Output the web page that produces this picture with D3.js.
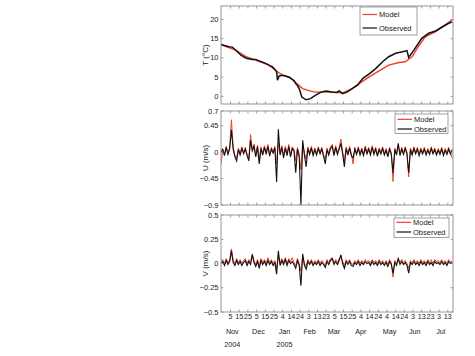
<!DOCTYPE html>
<html><head><meta charset="utf-8">
<script src="https://cdn.jsdelivr.net/npm/d3@7"></script>
<style>body{margin:0;background:#fff}svg{display:block}text{font-family:"Liberation Sans",Arial,sans-serif;fill:#222}</style>
</head><body><svg id="c" width="475" height="356"></svg>
<script>
// ---------- DATA ----------
const tDatesObs = ["2004-10-25","2004-10-29","2004-11-03","2004-11-07","2004-11-11","2004-11-17","2004-11-23","2004-11-30","2004-12-04","2004-12-08","2004-12-12","2004-12-16","2004-12-20","2004-12-23","2004-12-26","2004-12-28","2004-12-29","2004-12-31","2005-01-04","2005-01-08","2005-01-12","2005-01-15","2005-01-17","2005-01-19","2005-01-21","2005-01-23","2005-01-26","2005-01-31","2005-02-05","2005-02-11","2005-02-17","2005-02-23","2005-03-02","2005-03-07","2005-03-10","2005-03-14","2005-03-19","2005-03-25","2005-03-31","2005-04-06","2005-04-14","2005-04-21","2005-04-29","2005-05-06","2005-05-14","2005-05-22","2005-05-27","2005-05-29","2005-06-04","2005-06-13","2005-06-21","2005-06-29","2005-07-07","2005-07-14","2005-07-18"];
const tObs = [13.5,13.2,12.9,12.8,12.0,10.7,9.9,9.6,9.6,9.2,8.9,8.5,8.0,7.7,7.0,6.4,4.2,5.3,5.5,5.2,4.9,4.4,4.1,3.3,2.8,2.0,-0.2,-0.9,-0.6,0.3,1.1,1.4,1.1,1.0,1.4,0.7,1.1,2.0,2.9,4.6,5.9,7.2,9.0,10.3,11.2,11.6,11.9,10.1,12.0,15.1,16.4,17.0,18.1,19.0,19.3];
const tDatesModel = ["2004-10-25","2004-11-11","2004-11-23","2004-12-04","2004-12-19","2004-12-29","2005-01-04","2005-01-12","2005-01-19","2005-01-27","2005-02-04","2005-02-11","2005-02-26","2005-03-14","2005-03-25","2005-04-02","2005-04-14","2005-04-25","2005-05-06","2005-05-18","2005-05-25","2005-06-02","2005-06-09","2005-06-17","2005-06-29","2005-07-10","2005-07-18"];
const tModel = [13.4,12.0,10.3,9.4,8.1,6.4,5.5,4.9,3.6,2.0,1.4,1.1,1.1,0.9,2.0,3.3,5.1,6.6,8.1,8.8,9.0,10.3,12.9,15.5,16.8,18.6,19.9];

const uvStartDate = "2004-10-25";
const uvStepDays = 2;
const uObs = [0.00,0.05,-0.06,0.08,-0.04,0.06,0.38,0.05,-0.08,-0.15,0.04,-0.05,0.06,-0.03,0.05,-0.06,-0.15,0.20,0.02,0.10,-0.08,0.09,-0.20,0.06,-0.05,0.08,-0.04,0.10,-0.07,0.05,-0.02,0.07,-0.51,0.39,-0.05,0.08,-0.10,0.07,-0.06,0.10,-0.08,0.06,0.02,-0.35,0.05,-0.08,-0.90,0.20,-0.05,-0.25,0.06,-0.04,0.07,-0.06,0.04,-0.05,0.06,-0.03,0.05,-0.07,-0.20,0.04,-0.05,0.06,0.10,-0.06,0.08,-0.04,0.05,0.15,-0.03,-0.25,0.06,-0.05,0.07,-0.06,-0.10,0.05,-0.04,0.06,-0.05,0.04,-0.06,0.07,-0.03,0.05,-0.05,0.08,-0.04,0.05,-0.07,0.04,-0.03,0.06,-0.05,0.03,-0.08,0.05,-0.04,-0.35,0.04,-0.05,0.15,-0.06,0.05,-0.04,0.06,-0.03,-0.35,0.04,-0.05,0.06,-0.03,0.05,-0.06,0.04,-0.03,0.05,-0.05,0.03,-0.04,0.06,-0.03,0.04,-0.05,0.03,-0.04,0.05,-0.06,0.03,-0.04,0.05,-0.03,0.04];
const uModel = [-0.20,0.04,-0.03,0.10,-0.02,0.08,0.55,0.08,-0.05,-0.10,0.07,-0.02,0.09,0.00,0.08,-0.03,-0.10,0.30,0.05,0.13,-0.05,0.12,-0.15,0.09,-0.02,0.11,0.00,0.13,-0.04,0.08,0.01,0.10,-0.20,0.15,-0.02,0.11,-0.06,0.10,-0.03,0.13,-0.05,0.09,0.05,-0.15,0.08,-0.04,-0.30,0.15,-0.02,-0.12,0.09,-0.01,0.10,-0.03,0.07,-0.02,0.09,0.00,0.08,-0.04,-0.12,0.07,-0.02,0.09,0.13,-0.03,0.11,-0.01,0.08,0.22,0.00,-0.15,0.09,-0.02,0.10,-0.03,-0.20,0.08,-0.01,0.09,-0.02,0.07,-0.03,0.10,0.00,0.08,-0.02,0.11,-0.01,0.08,-0.04,0.07,0.00,0.09,-0.02,0.06,-0.05,0.08,-0.01,-0.50,0.07,-0.02,0.12,-0.03,0.08,-0.01,0.09,0.00,-0.42,0.07,-0.02,0.09,0.00,0.08,-0.03,0.07,0.00,0.08,-0.02,0.06,-0.01,0.09,0.00,0.07,-0.02,0.06,-0.01,0.08,-0.03,0.06,-0.01,0.08,0.00,-0.10];
const vObs = [0.00,0.02,-0.02,0.03,-0.01,0.02,0.13,0.01,-0.02,0.03,-0.01,0.02,-0.02,0.01,0.03,-0.02,0.02,-0.01,0.09,0.01,-0.03,0.02,-0.05,0.03,-0.01,0.02,-0.02,0.03,-0.01,0.02,-0.02,0.01,-0.11,0.13,-0.02,0.03,-0.01,0.04,-0.02,0.03,0.00,0.02,-0.01,-0.05,0.03,-0.02,-0.23,0.10,-0.02,-0.06,0.02,-0.01,0.02,-0.02,0.01,-0.01,0.02,-0.02,0.01,-0.01,-0.04,0.02,-0.01,0.03,0.05,-0.01,0.02,-0.01,0.03,0.09,0.00,-0.05,0.02,-0.01,0.02,-0.02,-0.03,0.01,-0.01,0.02,-0.02,0.01,-0.01,0.02,0.00,0.01,-0.02,0.02,-0.01,0.01,-0.02,0.02,-0.01,0.01,-0.02,0.01,-0.03,0.02,-0.01,-0.10,0.01,-0.02,0.05,-0.01,0.02,-0.01,0.01,-0.02,-0.10,0.01,-0.01,0.02,-0.01,0.01,-0.02,0.02,-0.01,0.01,-0.02,0.02,-0.01,0.01,-0.02,0.02,0.00,0.01,-0.01,0.02,-0.01,0.01,-0.02,0.02,0.00,0.01];
const vModel = [0.02,0.04,0.00,0.05,0.01,0.04,0.15,0.03,0.00,0.05,0.01,0.04,0.00,0.03,0.05,0.00,0.04,0.01,0.10,0.03,-0.01,0.04,-0.02,0.05,0.01,0.04,0.00,0.06,0.01,0.04,0.00,0.03,-0.05,0.08,0.00,0.05,0.01,0.06,0.00,0.05,0.02,0.06,0.01,-0.02,0.05,0.00,-0.08,0.07,0.00,-0.03,0.04,0.01,0.04,0.00,0.03,0.01,0.04,0.00,0.03,0.01,-0.02,0.04,0.01,0.05,0.06,0.01,0.04,0.01,0.05,0.07,0.02,-0.02,0.04,0.01,0.04,0.00,-0.01,0.03,0.01,0.04,0.00,0.03,0.01,0.04,0.02,0.03,0.00,0.04,0.01,0.03,0.00,0.04,0.01,0.03,0.00,0.03,-0.01,0.04,0.01,-0.14,0.03,0.00,0.05,0.01,0.04,0.01,0.03,0.00,-0.05,0.03,0.01,0.04,0.01,0.03,0.00,0.04,0.01,0.03,0.00,0.04,0.01,0.04,0.00,0.04,0.02,0.03,0.01,0.04,0.01,0.03,0.00,0.04,0.02,0.02];

const xDomainDates = ["2004-10-25","2005-07-19"];
const xTickDates = ["2004-11-05","2004-11-15","2004-11-25","2004-12-05","2004-12-15","2004-12-25","2005-01-04","2005-01-14","2005-01-24","2005-02-03","2005-02-13","2005-02-23","2005-03-05","2005-03-15","2005-03-25","2005-04-04","2005-04-14","2005-04-24","2005-05-04","2005-05-14","2005-05-24","2005-06-03","2005-06-13","2005-06-23","2005-07-03","2005-07-13"];
const monthLabels = ["Nov","Dec","Jan","Feb","Mar","Apr","May","Jun","Jul"];
const monthLabelDates = ["2004-11-07","2004-12-07","2005-01-06","2005-02-04","2005-03-04","2005-04-04","2005-05-07","2005-06-05","2005-07-05"];
const yearLabels = ["2004","2005"];
const yearLabelDates = ["2004-11-07","2005-01-06"];

const tTicks = [0,5,10,15,20];
const uTicks = [-0.9,-0.45,0,0.45,0.7];
const vTicks = [-0.5,-0.25,0,0.25,0.5];
const seriesNames = ["Model","Observed"];
const yLabels = ["T (\u00B0C)","U (m/s)","V (m/s)"];

// ---------- DRAW ----------
const parse = d3.timeParse("%Y-%m-%d");
const svg = d3.select("#c");
const L = 221, R = 453;
const x = d3.scaleTime().domain(xDomainDates.map(parse)).range([L, R]);
const RED = "#f0402a", BLK = "#111", AX = "#8a8a8a";
const fmt = v => String(v).replace("-", "\u2212");

const uvStart = parse(uvStartDate);
const uvDate = i => d3.timeDay.offset(uvStart, i * uvStepDays);

const panels = [
  {top: 6, bottom: 104, domain: [-2, 23.5], ticks: tTicks, label: yLabels[0],
   model: tModel.map((v,i)=>[parse(tDatesModel[i]), v]),
   obs: tObs.map((v,i)=>[parse(tDatesObs[i]), v]), lw: 1.4,
   leg: {x: 360, y: 7, w: 57, h: 28, y1: 14.5, y2: 28}},
  {top: 111, bottom: 205, domain: [-0.9, 0.7], ticks: uTicks, label: yLabels[1],
   model: uModel.map((v,i)=>[uvDate(i), v]),
   obs: uObs.map((v,i)=>[uvDate(i), v]), lw: 1,
   leg: {x: 395, y: 114, w: 53, h: 19.5, y1: 119.3, y2: 129}},
  {top: 215, bottom: 312, domain: [-0.5, 0.5], ticks: vTicks, label: yLabels[2],
   model: vModel.map((v,i)=>[uvDate(i), v]),
   obs: vObs.map((v,i)=>[uvDate(i), v]), lw: 1,
   leg: {x: 394, y: 218, w: 55, h: 19.5, y1: 222.3, y2: 232}}
];

panels.forEach((p, k) => {
  const y = d3.scaleLinear().domain(p.domain).range([p.bottom, p.top]);
  const g = svg.append("g");
  const cid = "clip" + k;
  svg.append("clipPath").attr("id", cid).append("rect")
    .attr("x", L).attr("y", p.top).attr("width", R - L).attr("height", p.bottom - p.top);

  const line = d3.line().x(d => x(d[0])).y(d => y(d[1]));
  g.append("path").datum(p.model).attr("d", line).attr("fill", "none")
    .attr("stroke", RED).attr("stroke-width", p.lw).attr("clip-path", `url(#${cid})`);
  g.append("path").datum(p.obs).attr("d", line).attr("fill", "none")
    .attr("stroke", BLK).attr("stroke-width", p.lw + 0.1).attr("clip-path", `url(#${cid})`);

  // box
  g.append("rect").attr("x", L).attr("y", p.top).attr("width", R - L).attr("height", p.bottom - p.top)
    .attr("fill", "none").attr("stroke", AX).attr("stroke-width", 0.9);

  // y ticks (inward on both sides) + labels
  p.ticks.forEach(t => {
    const yy = y(t);
    g.append("line").attr("x1", L).attr("x2", L + 2.5).attr("y1", yy).attr("y2", yy).attr("stroke", AX).attr("stroke-width", 0.8);
    g.append("line").attr("x1", R).attr("x2", R - 2.5).attr("y1", yy).attr("y2", yy).attr("stroke", AX).attr("stroke-width", 0.8);
    g.append("text").attr("x", L - 2.5).attr("y", yy + 2.6).attr("text-anchor", "end")
      .attr("font-size", 7.5).text(fmt(t));
  });
  // x ticks top & bottom
  xTickDates.forEach(s => {
    const xx = x(parse(s));
    g.append("line").attr("x1", xx).attr("x2", xx).attr("y1", p.top).attr("y2", p.top + 2.5).attr("stroke", AX).attr("stroke-width", 0.8);
    g.append("line").attr("x1", xx).attr("x2", xx).attr("y1", p.bottom).attr("y2", p.bottom - 2.5).attr("stroke", AX).attr("stroke-width", 0.8);
  });

  // y label
  g.append("text").attr("transform", `translate(${208},${(p.top + p.bottom) / 2}) rotate(-90)`)
    .attr("text-anchor", "middle").attr("font-size", 8).text(p.label);

  // legend
  const lg = p.leg;
  g.append("rect").attr("x", lg.x).attr("y", lg.y).attr("width", lg.w).attr("height", lg.h)
    .attr("fill", "#fff").attr("stroke", AX).attr("stroke-width", 0.8);
  [[lg.y1, RED, seriesNames[0]], [lg.y2, BLK, seriesNames[1]]].forEach(([yy, c, name]) => {
    g.append("line").attr("x1", lg.x + 2.5).attr("x2", lg.x + 17).attr("y1", yy).attr("y2", yy)
      .attr("stroke", c).attr("stroke-width", 1.2);
    g.append("text").attr("x", lg.x + 19).attr("y", yy + 2.6).attr("font-size", 7.5).text(name);
  });

  if (k === panels.length - 1) {
    xTickDates.forEach(s => {
      const d = parse(s);
      g.append("text").attr("x", x(d)).attr("y", 319).attr("text-anchor", "middle")
        .attr("font-size", 7.2).text(d.getDate());
    });
    monthLabels.forEach((m, i) => {
      g.append("text").attr("x", x(parse(monthLabelDates[i]))).attr("y", 333.5).attr("text-anchor", "middle")
        .attr("font-size", 7.2).text(m);
    });
    yearLabels.forEach((yl, i) => {
      g.append("text").attr("x", x(parse(yearLabelDates[i]))).attr("y", 347).attr("text-anchor", "middle")
        .attr("font-size", 7.2).text(yl);
    });
  }
});
</script></body></html>
